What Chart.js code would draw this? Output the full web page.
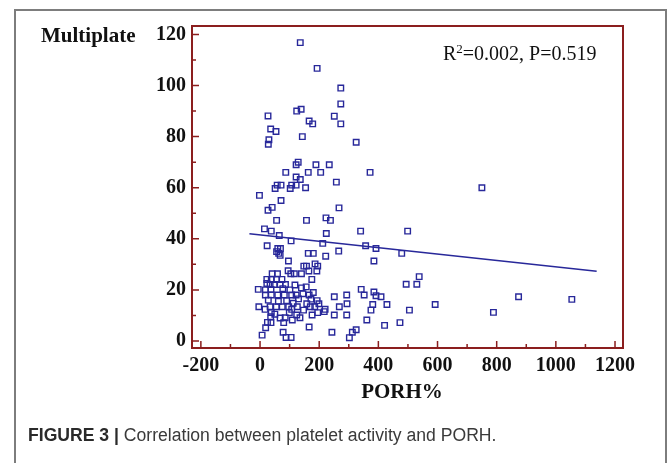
<!DOCTYPE html>
<html><head><meta charset="utf-8">
<script src="https://cdn.jsdelivr.net/npm/chart.js@4.4.1/dist/chart.umd.min.js"></script>
<style>
html,body{margin:0;padding:0;background:#fff;width:670px;height:463px;overflow:hidden;}
#frame{position:absolute;left:14px;top:9px;width:653px;height:480px;border:2px solid #7d7d7d;border-bottom:none;box-sizing:border-box;}
#wrap{position:absolute;left:0;top:0;width:670px;height:463px;}
.serif{position:absolute;font-family:"Liberation Serif","Times New Roman",serif;color:#111;white-space:nowrap;line-height:1;}
#ytitle{left:41px;top:25px;font-weight:bold;font-size:21px;}
#xtitle{left:402px;top:381px;font-weight:bold;font-size:21px;transform:translateX(-50%);}
#stat{left:443px;top:43px;font-size:20px;}
#stat sup{font-size:13px;vertical-align:0;position:relative;top:-7px;}
#caption{position:absolute;left:28px;top:427px;font-family:"Liberation Sans",Arial,sans-serif;font-size:17.6px;line-height:1;color:#3a3a3a;white-space:nowrap;}
#caption b{color:#2a2a2a;}
</style></head>
<body>
<div id="frame"></div>
<div id="wrap"><canvas id="c" width="670" height="463"></canvas></div>
<div class="serif" id="ytitle">Multiplate</div>
<div class="serif" id="xtitle">PORH%</div>
<div class="serif" id="stat">R<sup>2</sup>=0.002, P=0.519</div>
<div id="caption"><b>FIGURE 3 |</b> Correlation between platelet activity and PORH.</div>
<script>
// PORH% (x) and Multiplate (y) values
const porhX = [
 136,193,273,273,27,124,139,251,166,178,273,36,54,143,30,28,325,129,122,189,
 234,87,163,205,372,122,136,258,58,71,107,122,154,51,102,-2,71,750,
 41,27,267,56,157,223,238,15,38,65,224,340,499,105,212,357,392,479,24,60,
 69,56,63,68,163,180,266,222,96,385,
 148,157,186,195,95,41,59,104,116,140,165,192,23,38,56,74,175,538,494,530,
 34,48,68,86,23,-6,18,37,156,180,342,385,392,409,874,1054,18,38,60,82,
 107,122,166,172,193,251,293,352,-4,17,34,55,75,97,107,126,158,170,185,199,
 220,268,294,381,429,592,375,505,789,147,217,38,99,124,135,85,36,176,195,251,
 293,361,421,473,37,19,80,109,166,7,78,88,105,243,302,312,325,25,
 101,118,77,130,145,62,90,28,112,140,50,68
];
const multiplateY = [
 116.8,106.7,99,92.8,88.1,90,90.7,88,86.1,85,85,83,82,80,78.8,77,77.8,70,69,69,
 69,66,66,66,66,64.2,63.2,62.2,61,61,61,61,60,59.7,59.7,57,55,60,
 52.3,51.2,52.1,47.2,47.2,48.2,47.2,43.9,43,41.3,42.1,43,43,39.2,38.2,37.3,36.2,34.3,37.3,36.2,
 36.2,35,34.3,33.5,34.3,34.3,35.2,33.2,31.3,31.3,
 29.3,29.3,30.2,29.3,27.5,26.3,26.3,26.3,26.3,26.3,27.4,27.4,24.1,24.1,24.1,24.1,24.1,25.2,22.2,22.2,
 22.1,22.1,22.1,22.1,22.5,20.2,20,20.2,21.2,19,20.2,19.2,17.7,17.3,17.3,16.3,18,18,18,18,
 18,18,18,16.4,15.8,17.3,18,18,13.4,12.4,13.4,13.4,13.4,13.4,12.4,13.4,14.6,13.4,13.4,14.6,
 12.4,13.4,14.6,14.3,14.3,14.3,12.1,12.1,11.2,12.1,11.5,11.1,11.1,10.2,9.1,9.1,9.5,10.2,11.1,10.2,
 10.2,8.2,6.1,7.2,7.2,5.2,7.2,8.2,5.5,2.3,3.4,1.4,1.4,3.4,1.3,3.4,4.4,7.3,
 20,21.9,20.5,16.5,18.5,15.5,15.8,16,14.8,20.8,10.5,9
];
// regression line end points
const fitX = [-36, 1138];
const fitY = [42.0, 27.3];
// axis ticks
const xMajorTicks = [-200, 0, 200, 400, 600, 800, 1000, 1200];
const xMinorTicks = [-100, 100, 300, 500, 700, 900, 1100];
const yMajorTicks = [0, 20, 40, 60, 80, 100, 120];
const yMinorTicks = [10, 30, 50, 70, 90, 110];

const AXIS = '#8b1e1e';
const BLUE = '#28289a';

const framePlugin = {
  id: 'frameTicks',
  afterDraw(chart) {
    const {ctx, chartArea: a, scales: {x, y}} = chart;
    ctx.save();
    ctx.strokeStyle = AXIS;
    ctx.lineWidth = 2;
    ctx.strokeRect(a.left, a.top, a.right - a.left, a.bottom - a.top);
    ctx.lineWidth = 1.5;
    ctx.beginPath();
    xMajorTicks.forEach(v => { const p = x.getPixelForValue(v); ctx.moveTo(p, a.bottom); ctx.lineTo(p, a.bottom - 7); });
    xMinorTicks.forEach(v => { const p = x.getPixelForValue(v); ctx.moveTo(p, a.bottom); ctx.lineTo(p, a.bottom - 4); });
    yMajorTicks.forEach(v => { const p = y.getPixelForValue(v); ctx.moveTo(a.left, p); ctx.lineTo(a.left + 7, p); });
    yMinorTicks.forEach(v => { const p = y.getPixelForValue(v); ctx.moveTo(a.left, p); ctx.lineTo(a.left + 4, p); });
    ctx.stroke();
    ctx.restore();
  }
};

const tickFont = {family: '"Liberation Serif", "Times New Roman", serif', weight: 'bold', size: 20};

new Chart(document.getElementById('c'), {
  data: {
    datasets: [
      {
        type: 'scatter',
        data: porhX.map((v, i) => ({x: v, y: multiplateY[i]})),
        pointStyle: 'rect',
        pointRadius: 3.9,
        pointBorderWidth: 1.4,
        pointBorderColor: BLUE,
        pointBackgroundColor: 'rgba(0,0,0,0)',
        borderColor: BLUE,
        backgroundColor: 'rgba(0,0,0,0)'
      },
      {
        type: 'line',
        data: fitX.map((v, i) => ({x: v, y: fitY[i]})),
        borderColor: BLUE,
        borderWidth: 1.6,
        pointRadius: 0,
        fill: false
      }
    ]
  },
  options: {
    responsive: false,
    animation: false,
    events: [],
    layout: {padding: {left: 140, right: 47, top: 26, bottom: 0}},
    plugins: {legend: {display: false}, tooltip: {enabled: false}},
    scales: {
      x: {
        type: 'linear', position: 'bottom', min: -230, max: 1227,
        afterBuildTicks: s => { s.ticks = xMajorTicks.map(v => ({value: v})); },
        afterFit: s => { s.height = 115; },
        grid: {display: false, drawTicks: false},
        border: {display: false},
        ticks: {font: tickFont, color: '#111', padding: 6, autoSkip: false, maxRotation: 0, callback: v => String(v)}
      },
      y: {
        type: 'linear', position: 'left', min: -2.74, max: 123.3,
        afterBuildTicks: s => { s.ticks = yMajorTicks.map(v => ({value: v})); },
        afterFit: s => { s.width = 52; },
        grid: {display: false, drawTicks: false},
        border: {display: false},
        ticks: {font: tickFont, color: '#111', padding: 6, autoSkip: false, callback: v => String(v)}
      }
    }
  },
  plugins: [framePlugin]
});
</script>
</body></html>
